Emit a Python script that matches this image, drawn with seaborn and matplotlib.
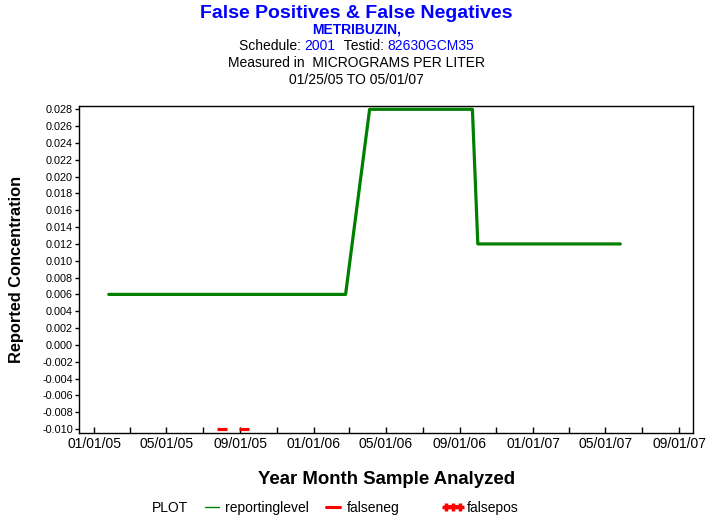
import pandas as pd
import numpy as np
import matplotlib
matplotlib.use('Agg')
import matplotlib.pyplot as plt
import matplotlib.dates as mdates
from matplotlib.lines import Line2D
import seaborn as sns

# reporting level over time
level_dates = ['2005-01-25', '2006-02-23', '2006-04-04', '2006-09-22', '2006-10-01', '2007-05-26']
level_values = [0.006, 0.006, 0.028, 0.028, 0.012, 0.012]

# false negatives (drawn at the bottom of the axis)
falseneg_dates = ['2005-08-01', '2005-09-07']
falseneg_values = [-0.010, -0.010]

y_ticks = np.round(np.arange(-0.010, 0.0281, 0.002), 3)

sns.set_style('ticks')
plt.rcParams['font.family'] = ['Liberation Sans', 'DejaVu Sans']
plt.rcParams['text.color'] = 'black'
plt.rcParams['axes.labelcolor'] = 'black'
plt.rcParams['xtick.color'] = 'black'
plt.rcParams['ytick.color'] = 'black'

level = pd.DataFrame({'date': pd.to_datetime(level_dates), 'value': level_values})
fneg = pd.DataFrame({'date': pd.to_datetime(falseneg_dates), 'value': falseneg_values})

fig = plt.figure(figsize=(7.13, 5.23), dpi=100)
ax = fig.add_axes([79.3 / 713, 1 - 433.3 / 523, (693 - 79.3) / 713, (433.3 - 105.7) / 523])

sns.lineplot(data=level, x='date', y='value', ax=ax, color='#008000', linewidth=2.3)
ax.plot(fneg['date'], fneg['value'], linestyle='none', marker='_', markersize=7.5,
        markeredgewidth=2.3, color='red')

ax.set_xlim(pd.Timestamp('2004-12-07'), pd.Timestamp('2007-09-24'))
ax.set_ylim(-0.01051, 0.02843)
ax.set_yticks(y_ticks)
ax.set_yticklabels([f'{v:.3f}' for v in y_ticks], fontsize=7.8)

ax.xaxis.set_major_locator(mdates.MonthLocator(bymonth=[1, 3, 5, 7, 9, 11]))

def fmt(x, pos):
    d = mdates.num2date(x)
    return d.strftime('%m/%d/%y') if d.month in (1, 5, 9) else ''

ax.xaxis.set_major_formatter(plt.FuncFormatter(fmt))
ax.tick_params(axis='x', direction='in', length=4, width=1, labelsize=10, pad=3)
ax.tick_params(axis='y', direction='out', length=3, width=1, pad=1.5)
for s in ax.spines.values():
    s.set_linewidth(1)
    s.set_color('black')

ax.set_xlabel('Year Month Sample Analyzed', fontsize=13.4, fontweight='bold')
ax.xaxis.set_label_coords(0.5, -(479 - 433.3) / (433.3 - 105.7), transform=ax.transAxes)
ax.set_ylabel('Reported Concentration', fontsize=11.8, fontweight='bold')
ax.yaxis.set_label_coords(-(79.3 - 17) / (693 - 79.3), 0.5, transform=ax.transAxes)
ax.yaxis.label.set_va('center')
ax.xaxis.label.set_va('center')

# header
cx = 0.5
fig.text(cx, 1 - 13 / 523, 'False Positives & False Negatives', ha='center', va='center',
         fontsize=14, fontweight='bold', color='#0000FF')
fig.text(cx, 1 - 30 / 523, 'METRIBUZIN,', ha='center', va='center',
         fontsize=10, fontweight='bold', color='#0000FF')
fig.text(cx, 1 - 63 / 523, 'Measured in  MICROGRAMS PER LITER', ha='center', va='center', fontsize=10)
fig.text(cx, 1 - 80 / 523, '01/25/05 TO 05/01/07', ha='center', va='center', fontsize=10)

# mixed colour line
parts = [('Schedule: ', 'black'), ('2001', '#0000FF'), ('  Testid: ', 'black'), ('82630GCM35', '#0000FF')]
renderer = fig.canvas.get_renderer()
widths = []
for txt, c in parts:
    t = fig.text(0, 0, txt.replace(' ', '\u00a0'), fontsize=10)
    widths.append(t.get_window_extent(renderer).width)
    t.remove()
x0 = (713 - sum(widths)) / 2
for (txt, c), w in zip(parts, widths):
    fig.text(x0 / 713, 1 - 46 / 523, txt.replace(' ', '\u00a0'), ha='left', va='center',
             fontsize=10, color=c)
    x0 += w

# legend
ly = 1 - 508 / 523
fig.text(152 / 713, ly, 'PLOT', ha='left', va='center', fontsize=10)
entries = [
    (Line2D([], [], color='#008000', linewidth=1), 'reportinglevel', 201),
    (Line2D([], [], color='red', linewidth=2.2), 'falseneg', 322),
    (Line2D([], [], color='red', linewidth=3, marker='+', markersize=6, markeredgewidth=2.5),
     'falsepos', 442),
]
for h, lab, px in entries:
    fig.legend([h], [lab], loc='center left', bbox_to_anchor=(px / 713, ly), frameon=False,
               fontsize=10, handlelength=1.6, handletextpad=0.15, numpoints=3,
               borderpad=0, borderaxespad=0)

fig.savefig('out.png', dpi=100)
